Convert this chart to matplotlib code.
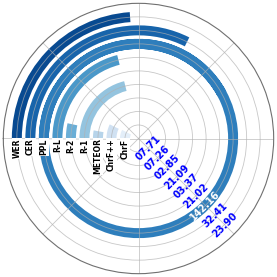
import numpy as np
import matplotlib
matplotlib.use("Agg")
import matplotlib.pyplot as plt

# innermost -> outermost
metrics = ["ChrF", "ChrF++", "METEOR", "R-1", "R-2", "R-L", "PPL", "CER", "WER"]
scores = [7.71, 7.26, 2.85, 21.09, 3.37, 21.02, 142.16, 32.41, 23.90]
score_text = ["07.71", "07.26", "02.85", "21.09", "03.37", "21.02", "142.16", "32.41", "23.90"]

colors = plt.cm.Blues(np.linspace(0.1, 0.9, len(metrics)))

fig = plt.figure(figsize=(2.77, 2.77), dpi=100)
ax = fig.add_axes([0.012, 0.012, 0.976, 0.976], projection="polar")
ax.set_theta_zero_location("W")
ax.set_theta_direction(-1)

pos = np.arange(len(metrics))
ax.barh(pos, [s / 100 * 2 * np.pi for s in scores], left=0, height=0.74, color=colors)

ax.set_ylim(-1, 9)
ax.set_rgrids(pos, labels=[""] * len(pos))
ax.set_thetagrids(np.arange(0, 360, 45), labels=[""] * 8)
ax.grid(color="#b0b0b0", linewidth=0.6, alpha=0.7)
ax.spines["polar"].set_color("#707070")
ax.spines["polar"].set_linewidth(0.8)

for i, name in enumerate(metrics):
    ax.text(0, i, name, rotation=90, ha="center", va="top", fontsize=5.5,
            fontweight="bold", bbox=dict(facecolor="white", edgecolor="none", pad=0.5))

for i, txt in enumerate(score_text):
    col = "white" if scores[i] > 100 else "blue"
    ax.text(np.radians(225), i, txt, rotation=45, ha="center", va="center",
            fontsize=7, fontweight="bold", color=col, rotation_mode="anchor")

fig.savefig("out.png", dpi=100)
